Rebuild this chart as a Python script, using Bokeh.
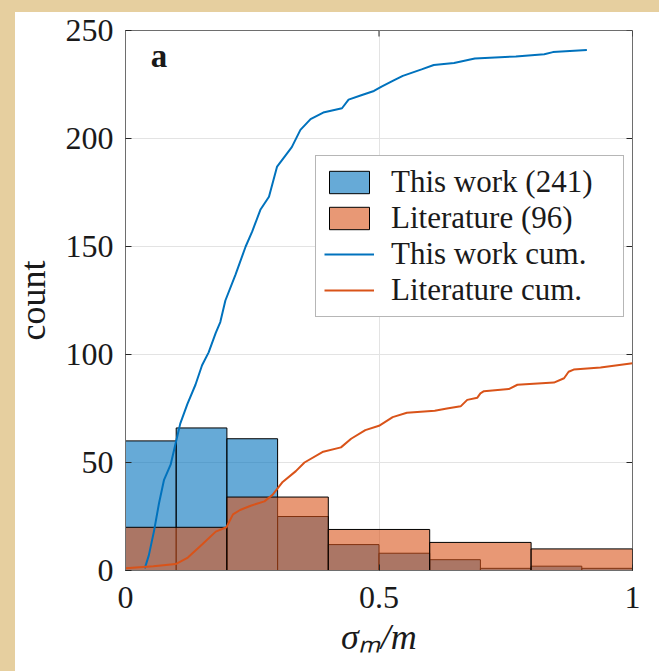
from bokeh.plotting import figure
from bokeh.models import Range1d, FixedTicker, Legend, LegendItem, Label
from bokeh.layouts import column
from bokeh.embed import file_html
from bokeh.resources import INLINE

# ---- data ----
this_edges = [0.0, 0.1, 0.2, 0.3, 0.4, 0.5, 0.6, 0.7, 0.8, 0.9, 1.0]
this_counts = [60, 66, 61, 25, 12, 8, 5, 1, 2, 1]
lit_edges = [0.0, 0.2, 0.4, 0.6, 0.8, 1.0]
lit_counts = [20, 34, 19, 13, 10]

cum_this_x = [0.038, 0.046, 0.056, 0.066, 0.076, 0.089, 0.099, 0.108, 0.122, 0.138,
              0.151, 0.164, 0.178, 0.187, 0.197, 0.217, 0.237, 0.250, 0.266, 0.283,
              0.299, 0.315, 0.328, 0.345, 0.365, 0.390, 0.427, 0.440, 0.465, 0.490,
              0.505, 0.530, 0.547, 0.584, 0.608, 0.648, 0.689, 0.770, 0.826, 0.843, 0.910]
cum_this_y = [1, 7, 18, 31, 42, 49, 59, 68, 77, 86,
              95, 101, 110, 115, 125, 137, 150, 157, 167, 173,
              187, 192, 196, 204, 209, 212, 214, 218, 220, 222,
              224, 227, 229, 232, 234, 235, 237, 238, 239, 240, 241]

cum_lit_x = [0.0, 0.055, 0.099, 0.123, 0.151, 0.178, 0.199, 0.212, 0.226, 0.247,
             0.274, 0.290, 0.310, 0.336, 0.353, 0.390, 0.425, 0.445, 0.473, 0.500,
             0.527, 0.555, 0.610, 0.634, 0.661, 0.674, 0.694, 0.700, 0.707, 0.756,
             0.773, 0.845, 0.865, 0.874, 0.884, 0.937, 1.0]
cum_lit_y = [1, 2, 3, 6, 12, 18, 20, 26, 28, 30,
             32, 35, 41, 46, 50, 55, 57, 61, 65, 67,
             71, 73, 74, 75, 76, 79, 80, 82, 83, 84,
             86, 87, 89, 92, 93, 94, 96]

x_ticks = [0, 0.5, 1]
y_ticks = [0, 50, 100, 150, 200, 250]
series_labels = ["This work (241)", "Literature (96)", "This work cum.", "Literature cum."]
x_label = "σₘ/m"
y_label = "count"
panel_label = "a"

BLUE = "#0072BD"
ORANGE = "#D95319"
FONT = "Liberation Serif"
AX = "#262626"
BOX = "#6e6e6e"
TXT = "#1a1a1a"
PARCHMENT = "#E6CF9F"

X0, X1, Y0, Y1 = 0.0, 1.0, 0.0, 250.0
FRAME_W, FRAME_H = 507, 540
TICK_PX = 6

p = figure(width=650, height=659, x_range=Range1d(X0, X1), y_range=Range1d(Y0, Y1),
           output_backend="svg", toolbar_location=None,
           min_border_left=116, min_border_right=27, min_border_top=18, min_border_bottom=101,
           background_fill_color="white", border_fill_color="white", border_fill_alpha=0)
p.margin = (12, 0, 0, 9)
p.styles = {"background": f"linear-gradient(to right, {PARCHMENT} 6px, #ffffff 6px)"}

p.xaxis.ticker = FixedTicker(ticks=x_ticks)
p.yaxis.ticker = FixedTicker(ticks=y_ticks)
p.xaxis.axis_label = x_label
p.yaxis.axis_label = y_label
for ax in (p.xaxis[0], p.yaxis[0]):
    ax.major_tick_in = TICK_PX
    ax.major_tick_out = 0
    ax.minor_tick_line_color = None
    ax.axis_line_color = BOX
    ax.major_tick_line_color = AX
    ax.major_label_text_font = FONT
    ax.major_label_text_font_size = "32px"
    ax.major_label_text_color = TXT
    ax.axis_label_text_font = FONT
    ax.axis_label_text_font_size = "36px"
    ax.axis_label_text_color = TXT
p.yaxis.axis_label_text_font_style = "normal"
p.xaxis.axis_label_text_font_style = "italic"
p.xaxis.major_label_standoff = 16
p.xaxis.axis_label_standoff = 6
p.yaxis.major_label_standoff = 12
p.yaxis.axis_label_standoff = 10

p.outline_line_color = BOX
p.xgrid.grid_line_color = "#E3E3E3"
p.ygrid.grid_line_color = "#E3E3E3"

# inward ticks on the top and right edges of the box
dx = (X1 - X0) * TICK_PX / FRAME_W
dy = (Y1 - Y0) * TICK_PX / FRAME_H
p.segment(x0=[X1] * len(y_ticks), x1=[X1 - dx] * len(y_ticks), y0=y_ticks, y1=y_ticks,
          line_color=AX, line_width=1)
p.segment(x0=x_ticks, x1=x_ticks, y0=[Y1] * len(x_ticks), y1=[Y1 - dy] * len(x_ticks),
          line_color=AX, line_width=1)

r_this = p.quad(left=this_edges[:-1], right=this_edges[1:], bottom=0, top=this_counts,
                fill_color=BLUE, fill_alpha=0.6, line_color="black", line_width=1)
r_lit = p.quad(left=lit_edges[:-1], right=lit_edges[1:], bottom=0, top=lit_counts,
               fill_color=ORANGE, fill_alpha=0.6, line_color="black", line_width=1)
l_this = p.line(cum_this_x, cum_this_y, line_color=BLUE, line_width=2)
l_lit = p.line(cum_lit_x, cum_lit_y, line_color=ORANGE, line_width=2)

legend = Legend(items=[LegendItem(label=series_labels[0], renderers=[r_this]),
                       LegendItem(label=series_labels[1], renderers=[r_lit]),
                       LegendItem(label=series_labels[2], renderers=[l_this]),
                       LegendItem(label=series_labels[3], renderers=[l_lit])],
                location=(190, 253), margin=0, padding=8, spacing=0,
                glyph_width=50, glyph_height=28, label_standoff=17, label_width=224,
                label_text_font=FONT, label_text_font_size="31px", label_text_color=TXT,
                border_line_color=BOX, border_line_width=1,
                background_fill_color="white", background_fill_alpha=1)
p.add_layout(legend)

p.add_layout(Label(x=0.066, y=238, text=panel_label, text_font=FONT, text_font_style="bold",
                   text_font_size="33px", text_align="center", text_baseline="middle",
                   text_color=TXT))

layout = column(p, width=659, height=671, styles={"background-color": PARCHMENT})
open("out.html", "w").write(file_html(layout, INLINE))
